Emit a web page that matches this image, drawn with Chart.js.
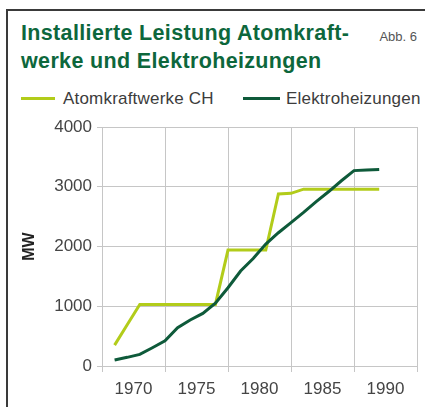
<!DOCTYPE html>
<html>
<head>
<meta charset="utf-8">
<script src="https://cdn.jsdelivr.net/npm/chart.js@4"></script>
<style>
  body { margin: 0; background: #fff; font-family: "Liberation Sans", Arial, sans-serif; }
  #wrap { position: relative; width: 425px; height: 407px; overflow: hidden; }
  #frame { position: absolute; left: 6px; top: 9px; width: 450px; height: 430px;
           border-left: 2px solid #3a3a3a; border-top: 2px solid #3a3a3a; }
  #title { position: absolute; left: 21px; top: 19px; font-size: 21.5px; font-weight: bold;
           line-height: 28px; color: #0d673c; letter-spacing: 0.35px; white-space: nowrap; }
  #abb { position: absolute; right: 8px; top: 29px; font-size: 13px; color: #555; }
  .leg { position: absolute; top: 88px; font-size: 17px; color: #3c3c3c; line-height: 21px; letter-spacing: 0.2px; }
  .swatch { position: absolute; height: 3px; top: 97px; }
  canvas { position: absolute; left: 0; top: 0; }
</style>
</head>
<body>
<div id="wrap">
  <div id="frame"></div>
  <div id="title">Installierte Leistung Atomkraft-<br>werke und Elektroheizungen</div>
  <div id="abb">Abb. 6</div>
  <div class="swatch" id="sw1" style="left:21px;width:34px;"></div>
  <div class="leg" style="left:63px;">Atomkraftwerke CH</div>
  <div class="swatch" id="sw2" style="left:243px;width:37px;"></div>
  <div class="leg" style="left:286px;">Elektroheizungen</div>
  <canvas id="chart" width="425" height="407"></canvas>
</div>
<script>
// Jahre (Werte jeweils Ende Jahr)
const years = [1968, 1969, 1970, 1971, 1972, 1973, 1974, 1975, 1976, 1977, 1978,
               1979, 1980, 1981, 1982, 1983, 1984, 1985, 1986, 1987, 1988, 1989];

// Installierte Leistung in MW
const atomkraftwerke = [350, 690, 1030, 1030, 1030, 1030, 1030, 1030, 1030, 1940, 1940,
                        1940, 1940, 2880, 2890, 2960, 2960, 2960, 2960, 2960, 2960, 2960];
const elektroheizungen = [100, 145, 195, 306, 420, 640, 770, 880, 1050, 1310, 1590,
                          1800, 2040, 2230, 2400, 2570, 2750, 2920, 3100, 3270, 3280, 3290];

const yearLabels = [1970, 1975, 1980, 1985, 1990];
const yTicks = [0, 1000, 2000, 3000, 4000];

const seriesNames = ['Atomkraftwerke CH', 'Elektroheizungen'];
const lightGreen = '#b2cc1a';
const darkGreen = '#0e5a3a';
const gridGray = '#c6c6c6';

document.getElementById('sw1').style.background = lightGreen;
document.getElementById('sw2').style.background = darkGreen;

// Raster liegt zwischen den Jahreszahlen (1967.5, 1972.5, ...)
let xTickValues = [];
yearLabels.forEach(y => { xTickValues.push(y - 2.5); xTickValues.push(y); });
xTickValues.push(yearLabels[yearLabels.length - 1] + 2.5);

function toPoints(values) {
  return years.map((y, i) => ({ x: y + 0.5, y: values[i] }));
}

const ctx = document.getElementById('chart').getContext('2d');
const myChart = new Chart(ctx, {
  type: 'line',
  data: {
    datasets: [
      {
        label: seriesNames[0],
        data: toPoints(atomkraftwerke),
        borderColor: lightGreen,
        backgroundColor: lightGreen,
        borderWidth: 3,
        pointRadius: 0,
        tension: 0,
        order: 1
      },
      {
        label: seriesNames[1],
        data: toPoints(elektroheizungen),
        borderColor: darkGreen,
        backgroundColor: darkGreen,
        borderWidth: 3,
        pointRadius: 0,
        tension: 0,
        order: 0
      }
    ]
  },
  options: {
    responsive: false,
    animation: false,
    layout: { padding: { top: 127, right: 8, bottom: 0, left: 0 } },
    plugins: {
      legend: { display: false },
      tooltip: { enabled: false }
    },
    scales: {
      x: {
        type: 'linear',
        min: xTickValues[0],
        max: xTickValues[xTickValues.length - 1],
        afterBuildTicks: s => { s.ticks = xTickValues.map(v => ({ value: v })); },
        afterFit: s => { s.height = 41; },
        ticks: {
          autoSkip: false,
          maxRotation: 0,
          padding: 7,
          color: '#454545',
          font: { family: 'Liberation Sans', size: 17 },
          callback: v => (v % 5 === 0 ? String(v) : '')
        },
        grid: {
          color: c => (c.tick && c.tick.value % 5 === 0 ? 'rgba(0,0,0,0)' : gridGray),
          tickColor: c => (c.tick && c.tick.value % 5 === 0 ? 'rgba(0,0,0,0)' : gridGray),
          tickLength: 6,
          lineWidth: 1
        },
        border: { color: gridGray, width: 1 }
      },
      y: {
        min: yTicks[0],
        max: yTicks[yTicks.length - 1],
        afterBuildTicks: s => { s.ticks = yTicks.map(v => ({ value: v })); },
        afterFit: s => { s.width = 102; },
        ticks: {
          padding: 5,
          color: '#454545',
          font: { family: 'Liberation Sans', size: 17 },
          callback: v => String(v)
        },
        grid: { color: gridGray, tickLength: 5, lineWidth: 1 },
        border: { color: gridGray, width: 1 },
        title: {
          display: true,
          text: 'MW',
          color: '#222',
          font: { family: 'Liberation Sans', size: 16, weight: 'bold' },
          padding: { top: 20, bottom: 0 }
        }
      }
    }
  }
});
</script>
</body>
</html>
